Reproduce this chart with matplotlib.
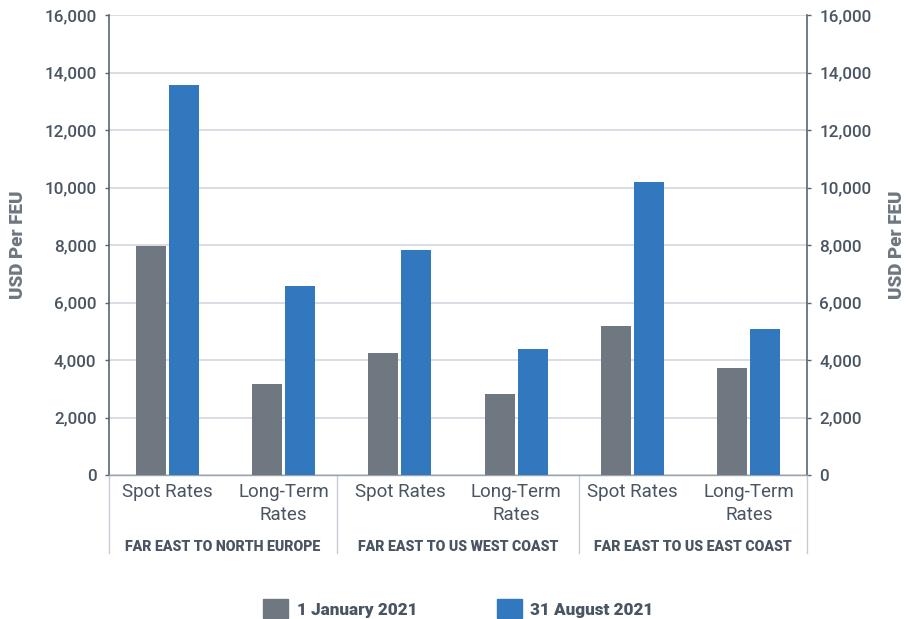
import matplotlib
matplotlib.use("Agg")
import matplotlib.pyplot as plt
from matplotlib.patches import Rectangle
from matplotlib.lines import Line2D
import numpy as np

# ---- data ----
categories = ["Spot Rates", "Long-Term\nRates", "Spot Rates", "Long-Term\nRates", "Spot Rates", "Long-Term\nRates"]
groups = ["FAR EAST TO NORTH EUROPE", "FAR EAST TO US WEST COAST", "FAR EAST TO US EAST COAST"]
series_names = ["1 January 2021", "31 August 2021"]
jan_2021 = [7980, 3160, 4240, 2815, 5185, 3720]
aug_2021 = [13550, 6580, 7830, 4380, 10200, 5080]
y_ticks = [0, 2000, 4000, 6000, 8000, 10000, 12000, 14000, 16000]
y_label = "USD Per FEU"

# ---- style ----
GRAY = "#6f7881"
BLUE = "#3278be"
TEXT = "#4a5562"
LABEL = "#6e7780"
GRID = "#cdd4db"
SPINE = "#5b6570"
FONT = ["Roboto", "DejaVu Sans"]
plt.rcParams["font.family"] = FONT

W, H = 906, 619
fig = plt.figure(figsize=(W / 100, H / 100), dpi=100)
L, R, T, B = 109, 807, 15, 475
ax = fig.add_axes([L / W, 1 - B / H, (R - L) / W, (B - T) / H])

x = np.arange(len(categories))
bw = 0.258
off = 0.142
ax.bar(x - off, jan_2021, width=bw, color=GRAY, zorder=3)
ax.bar(x + off, aug_2021, width=bw, color=BLUE, zorder=3)

ax.set_xlim(-0.5, len(categories) - 0.5)
ax.set_ylim(0, 16000)
ax.set_yticks(y_ticks)
ax.set_yticklabels([f"{v:,}" for v in y_ticks])
ax.grid(axis="y", color=GRID, linewidth=1.1, zorder=0)
ax.set_xticks([])

ax.spines["top"].set_visible(False)
ax.spines["left"].set_color(SPINE)
ax.spines["right"].set_color(SPINE)
ax.spines["left"].set_linewidth(1.2)
ax.spines["right"].set_linewidth(1.2)
ax.spines["bottom"].set_color("#9aa3ad")
ax.spines["bottom"].set_linewidth(1.0)

ax.tick_params(axis="y", which="both", left=True, right=True, labelleft=True, labelright=True,
               length=3, width=1, color=SPINE, labelsize=12.3, labelcolor=TEXT, pad=6)
for lab in ax.get_yticklabels():
    lab.set_fontweight("medium")

# category labels
xform = ax.get_xaxis_transform()
for i, c in enumerate(categories):
    for k, line in enumerate(c.split("\n")):
        ax.annotate(line, xy=(i, 0), xycoords=xform, xytext=(0, -22 - 23.3 * k),
                    textcoords="offset pixels", ha="center", va="baseline",
                    fontsize=13.5, fontweight="normal", color=TEXT, annotation_clip=False)

# group separators and labels
bounds = [-0.5, 1.46, 3.54, 5.5]
for b in bounds:
    ax.add_line(Line2D([b, b], [0, -78 / (B - T)], transform=xform, color="#c5ccd3",
                       linewidth=1.0, clip_on=False))
for g, name in enumerate(groups):
    cx = (bounds[g] + bounds[g + 1]) / 2
    ax.annotate(name, xy=(cx, 0), xycoords=xform, xytext=(0, -76),
                textcoords="offset pixels", ha="center", va="baseline",
                fontsize=10.2, fontweight="heavy", color=TEXT, annotation_clip=False)

# y labels
for px in (18, 897):
    fig.text(px / W, 1 - (T + B) / 2 / H, y_label, rotation=90, ha="center", va="center",
             fontsize=13.5, fontweight="heavy", color=LABEL)

# legend
leg = [(263, 297, GRAY, series_names[0]), (497, 530, BLUE, series_names[1])]
for rx, tx, col, name in leg:
    fig.patches.append(Rectangle((rx / W, 1 - 618 / H), 25 / W, 19 / H,
                                 transform=fig.transFigure, color=col))
    fig.text(tx / W, 1 - 615 / H, name, ha="left", va="baseline", fontsize=12.3,
             fontweight="heavy", color=TEXT)

fig.savefig("out.png", dpi=100)
